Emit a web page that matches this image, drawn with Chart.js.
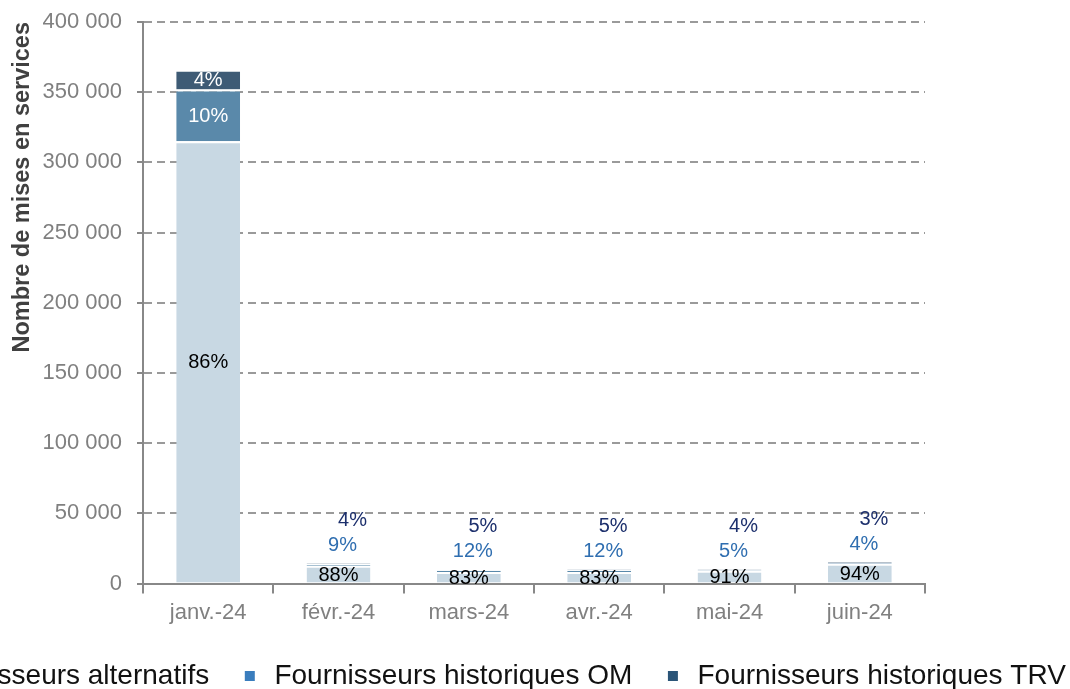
<!DOCTYPE html>
<html>
<head>
<meta charset="utf-8">
<script src="https://cdn.jsdelivr.net/npm/chart.js@4/dist/chart.umd.min.js"></script>
<style>
  html, body { margin: 0; padding: 0; width: 1070px; height: 689px; overflow: hidden; background: #fff; }
  #wrap { position: absolute; left: -300px; top: 0; width: 1560px; height: 689px; }
</style>
</head>
<body>
<div id="wrap"><canvas id="c"></canvas></div>
<script>
const categories = ['janv.-24', 'févr.-24', 'mars-24', 'avr.-24', 'mai-24', 'juin-24'];
const seriesNames = ['Fournisseurs alternatifs', 'Fournisseurs historiques OM', 'Fournisseurs historiques TRV'];
const alternatifs = [315000, 12700, 8300, 8350, 9100, 14200];
const historiquesOM = [37000, 1250, 1200, 1200, 500, 560];
const historiquesTRV = [14000, 550, 500, 500, 400, 410];
const yTicks = [0, 50000, 100000, 150000, 200000, 250000, 300000, 350000, 400000];

const seriesList = [alternatifs, historiquesOM, historiquesTRV];
const barColors = ['#c8d8e3', '#5a89aa', '#3e5b75'];
const legendColors = ['#c8d8e3', '#3a7dbd', '#2b5578'];
const insideText = ['#000000', '#ffffff', '#ffffff'];
const outsideText = ['#000000', '#2f6eb0', '#1c2f6c'];
const FONT = '"Liberation Sans", Arial, sans-serif';

function fmt(v) { return String(v).replace(/\B(?=(\d{3})+(?!\d))/g, ' '); }

const segLabels = {
  id: 'segLabels',
  afterDatasetsDraw(chart) {
    const ctx = chart.ctx;
    ctx.save();
    ctx.font = '20px ' + FONT;
    ctx.textAlign = 'center';
    ctx.textBaseline = 'middle';
    const last = chart.data.datasets.length - 1;
    categories.forEach((cat, i) => {
      const total = seriesList.reduce((s, arr) => s + arr[i], 0);
      const topY = chart.getDatasetMeta(last).data[i].y;
      seriesList.forEach((arr, d) => {
        const bar = chart.getDatasetMeta(d).data[i];
        const pct = Math.round(arr[i] / total * 100) + '%';
        const h = bar.base - bar.y;
        if (d === 0 || h >= 12) {
          ctx.fillStyle = insideText[d];
          ctx.fillText(pct, bar.x, (bar.y + bar.base) / 2 + 1);
        } else {
          ctx.fillStyle = outsideText[d];
          const dy = d === 1 ? 18 : 43;
          const dx = d === 1 ? 4 : 14;
          ctx.fillText(pct, bar.x + dx, topY - dy);
        }
      });
    });
    ctx.restore();
  }
};

new Chart(document.getElementById('c'), {
  type: 'bar',
  data: {
    labels: categories,
    datasets: seriesList.map((arr, d) => ({
      label: seriesNames[d],
      data: arr,
      backgroundColor: barColors[d],
      borderColor: '#ffffff',
      borderWidth: { top: 2, left: 0, right: 0, bottom: 0 },
      borderSkipped: false,
      categoryPercentage: 1,
      barPercentage: 0.49
    }))
  },
  options: {
    responsive: true,
    maintainAspectRatio: false,
    animation: false,
    layout: { padding: { top: 0, bottom: -11 } },
    plugins: {
      tooltip: { enabled: false },
      legend: {
        position: 'bottom',
        labels: {
          boxWidth: 10,
          boxHeight: 10,
          padding: 30,
          color: '#111111',
          font: { family: FONT, size: 28 },
          generateLabels(chart) {
            const items = Chart.defaults.plugins.legend.labels.generateLabels(chart);
            items.forEach((it, k) => {
              it.fillStyle = legendColors[k];
              it.strokeStyle = legendColors[k];
              it.lineWidth = 0;
              it.text = '\u2009' + it.text + '\u2009';
            });
            return items;
          }
        }
      }
    },
    scales: {
      x: {
        stacked: true,
        grid: { display: true, drawOnChartArea: false, offset: true, color: '#888888', lineWidth: 2, tickLength: 10 },
        border: { display: true, color: '#888888', width: 2 },
        ticks: { color: '#808080', font: { family: FONT, size: 22 }, padding: 6 }
      },
      y: {
        stacked: true,
        min: 0,
        max: 400000,
        weight: 0,
        afterBuildTicks(scale) { scale.ticks = yTicks.map(v => ({ value: v })); },
        afterFit(scale) { scale.width = 143; scale.paddingTop = 22; scale.paddingBottom = 0; },
        grid: {
          color: ctx => (ctx.tick && ctx.tick.value === 0) ? 'rgba(0,0,0,0)' : '#9a9a9a',
          lineWidth: 2,
          tickBorderDash: [],
          tickColor: '#888888',
          tickWidth: 2,
          tickLength: 6
        },
        border: { display: true, color: '#888888', width: 2, dash: [8, 5] },
        ticks: { color: '#808080', font: { family: FONT, size: 22 }, padding: 15, callback: v => fmt(v) },
        title: {
          display: true,
          text: 'Nombre de mises en services',
          align: 'end',
          color: '#404040',
          font: { family: FONT, size: 23.5, weight: 'bold' },
          padding: { top: 8, bottom: 0 }
        }
      },
      spacerL: {
        type: 'linear', position: 'left', weight: 10, display: true,
        afterFit(scale) { scale.width = 300; scale.paddingTop = 0; scale.paddingBottom = 0; },
        grid: { display: false }, border: { display: false }, ticks: { display: false }
      },
      spacerR: {
        type: 'linear', position: 'right', weight: 10, display: true,
        afterFit(scale) { scale.width = 335; scale.paddingTop = 0; scale.paddingBottom = 0; },
        grid: { display: false }, border: { display: false }, ticks: { display: false }
      }
    }
  },
  plugins: [segLabels]
});
</script>
</body>
</html>
